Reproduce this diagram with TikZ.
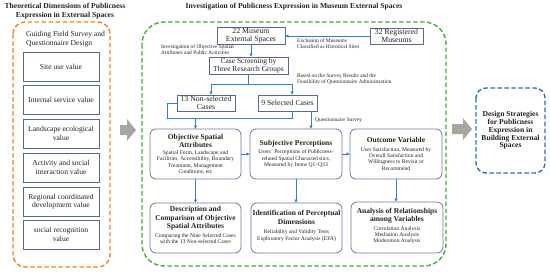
\documentclass[tikz,border=0pt]{standalone}
\usepackage{fontspec}
\setmainfont{Liberation Serif}
\usetikzlibrary{arrows.meta,calc}
\definecolor{orangec}{HTML}{F5821F}
\definecolor{greenc}{HTML}{3DAE36}
\definecolor{bluedc}{HTML}{1F6FD1}
\definecolor{connc}{HTML}{2A7FD4}
\definecolor{valc}{HTML}{56698F}
\definecolor{rbc}{HTML}{6A7BA0}
\definecolor{grayc}{HTML}{ABA59F}
\definecolor{txtc}{HTML}{222222}
\newcommand\hdf{\fontsize{7.5}{8.6}\selectfont\bfseries}
\newcommand\hdbig{\fontsize{7.5}{8.6}\selectfont\bfseries}
\newcommand\bdf{\fontsize{5.6}{6.3}\selectfont}
\newcommand\tinyf{\fontsize{5.4}{5.9}\selectfont}
\begin{document}
\begin{tikzpicture}[x=1pt,y=-1pt, every node/.style={text=txtc},
  valbox/.style={draw=valc, line width=0.8pt, minimum width=76pt, minimum height=29pt,
    inner sep=1pt, text width=74pt, align=flush center, font=\fontsize{7.6}{8.6}\selectfont},
  rbox/.style={draw=rbc, line width=0.8pt, rounded corners=6pt, minimum height=50pt,
    inner sep=0.5pt, align=flush center},
  sbox/.style={draw=valc, line width=0.9pt, inner sep=0.5pt, align=flush center,
    font=\fontsize{7.8}{8.1}\selectfont},
  title/.style={font=\fontsize{7.6}{8.8}\selectfont\bfseries, align=center},
  lbl/.style={font=\tinyf, align=left, anchor=west, inner sep=0pt},
  dashbox/.style={line width=1.4pt, dash pattern=on 4.5pt off 2.5pt},
  conn/.style={draw=connc, line width=0.9pt},
  arr/.style={conn, -{Triangle[length=3pt,width=3pt]}},
  garrow/.style={fill=grayc, draw=none}
]
\useasboundingbox (0,0) rectangle (550,271);

% ---------- titles ----------
\node[title] (t1) at (65,11.5) {Theoretical Dimensions of Publicness\\Expression in External Spaces};
\node[title] (t2) at (294,7) {Investigation of Publicness Expression in Museum External Spaces};

% ---------- left panel ----------
\draw[dashbox, draw=orangec, rounded corners=12pt] (13,22) rectangle (110,267);
\node[font=\fontsize{7.6}{9}\selectfont, align=left, anchor=north west, inner sep=0pt] (guide) at (26,31)
  {Guiding Field Survey and\\Questionnaire Design};
\node[valbox] (v1) at (61,66.5) {Site use value};
\node[valbox] (v2) at (61,100) {Internal service value};
\node[valbox] (v3) at (61,133.5) {Landscape ecological\\value};
\node[valbox] (v4) at (61,167.5) {Activity and social\\interaction value};
\node[valbox] (v5) at (61,201.5) {Regional coordinated\\development value};
\node[valbox] (v6) at (61,234.5) {social recognition\\value};

% gray arrows
\fill[garrow] (120,125) -- (127,125) -- (127,119) -- (136,130) -- (127,141) -- (127,135) -- (120,135) -- cycle;
\fill[garrow] (452,124) -- (463,124) -- (463,118) -- (472,129) -- (463,140) -- (463,134) -- (452,134) -- cycle;

% ---------- middle panel ----------
\draw[dashbox, draw=greenc, rounded corners=22pt] (142,22) rectangle (446,266);

\node[sbox, minimum width=68pt, minimum height=17pt, text width=67pt] (m22) at (251,35.5) {22 Museum\\External Spaces};
\node[sbox, minimum width=53pt, minimum height=16pt, text width=52pt] (m32) at (396.5,36) {32 Registered\\Museums};
\node[sbox, minimum width=79pt, minimum height=17pt, text width=78pt, font=\fontsize{7.5}{8.5}\selectfont] (scr) at (248.5,65.5) {Case Screening by\\Three Research Groups};
\node[sbox, minimum width=58pt, minimum height=16pt, text width=57pt] (n13) at (206,103) {13 Non-selected\\Cases};
\node[sbox, minimum width=59pt, minimum height=16pt, text width=58pt] (n9) at (287.5,103) {9 Selected Cases};

\node[lbl] (l1) at (297,44) {Exclusion of Museums\\Classified as Historical Sites};
\node[lbl] (l2) at (161,49.5) {Investigation of Objective Spatial\\Attributes and Public Activities};
\node[lbl] (l3) at (297,79.5) {Based on the Survey Results and the\\Feasibility of Questionnaire Administration};
\node[lbl] (l4) at (315,120) {Questionnaire Survey};

\node[rbox, minimum width=91pt, text width=90pt] (obj) at (195.5,154)
  {{\hdf Objective Spatial\\Attributes\par}\vspace{0.5pt}{\bdf Spatial Form, Landscape and\\Facilities, Accessibility, Boundary\\Treatment, Management\\Conditions, etc\par}};
\node[rbox, minimum width=92pt, text width=91pt] (subj) at (296,154)
  {{\hdf Subjective Perceptions\par}\vspace{2pt}{\bdf Users' Perceptions of Publicness-\\related Spatial Characteristics,\\Measured by Items Q1--Q33\par}};
\node[rbox, minimum width=92pt, text width=91pt] (out) at (396,154)
  {{\hdf Outcome Variable\par}\vspace{2pt}{\bdf User Satisfaction, Measured by\\Overall Satisfaction and\\Willingness to Revisit or\\Recommend\par}};

\node[rbox, minimum width=91pt, text width=90pt] (desc) at (195.5,228)
  {{\hdbig Description and\\Comparison of Objective\\Spatial Attributes\par}\vspace{2pt}{\bdf Comparing the Nine Selected Cases\\with the 13 Non-selected Cases\par}\vspace{6pt}};
\node[rbox, minimum width=91pt, text width=90pt] (ident) at (296.5,228)
  {{\hdbig Identification of Perceptual\\Dimensions\par}\vspace{3pt}{\bdf Reliability and Validity Tests\\Exploratory Factor Analysis (EFA)\par}\vspace{4pt}};
\node[rbox, minimum width=92pt, minimum height=51pt, text width=91pt] (anal) at (397,227.5)
  {{\hdbig Analysis of Relationships\\among Variables\par}\vspace{2pt}{\bdf Correlation Analysis\\Mediation Analysis\\Moderation Analysis\par}\vspace{3pt}};

% connectors
\draw[arr] (m32.west) -- (m32.west -| m22.east);
\draw[arr] (m22.south) -- (m22.south |- scr.north);
\coordinate (sp) at ($(scr.south)+(0,10)$);
\coordinate (a13) at (211,0);
\coordinate (a9) at (292,0);
\draw[conn] (scr.south) -- (sp);
\draw[arr] (sp) -| (a13 |- n13.north);
\draw[arr] (sp) -| (a9 |- n9.north);
\coordinate (jn) at (167,118);
\draw[conn] (n13.west) -| (jn) -- (jn -| a9) -- (a9 |- n9.south);
\draw[arr] (obj.north |- jn) -- (obj.north);
\coordinate (q) at (311,0);
\draw[arr] (q |- n9.south) -- (q |- subj.north);
\draw[arr] (obj.east) -- (subj.west);
\draw[arr] (subj.east) -- (out.west);
\draw[arr] (obj.south) -- (desc.north);
\draw[arr] (subj.south) -- (subj.south |- ident.north);
\draw[arr] (out.south) -- (out.south |- anal.north);

% ---------- right panel ----------
\draw[dashbox, draw=bluedc, rounded corners=10pt] (476,88) rectangle (545,173);
\node[font=\fontsize{7.6}{7.8}\selectfont\bfseries, align=center] (ds) at (510.5,130.5)
  {Design Strategies\\for Publicness\\Expression in\\Building External\\Spaces};
\end{tikzpicture}
\end{document}
